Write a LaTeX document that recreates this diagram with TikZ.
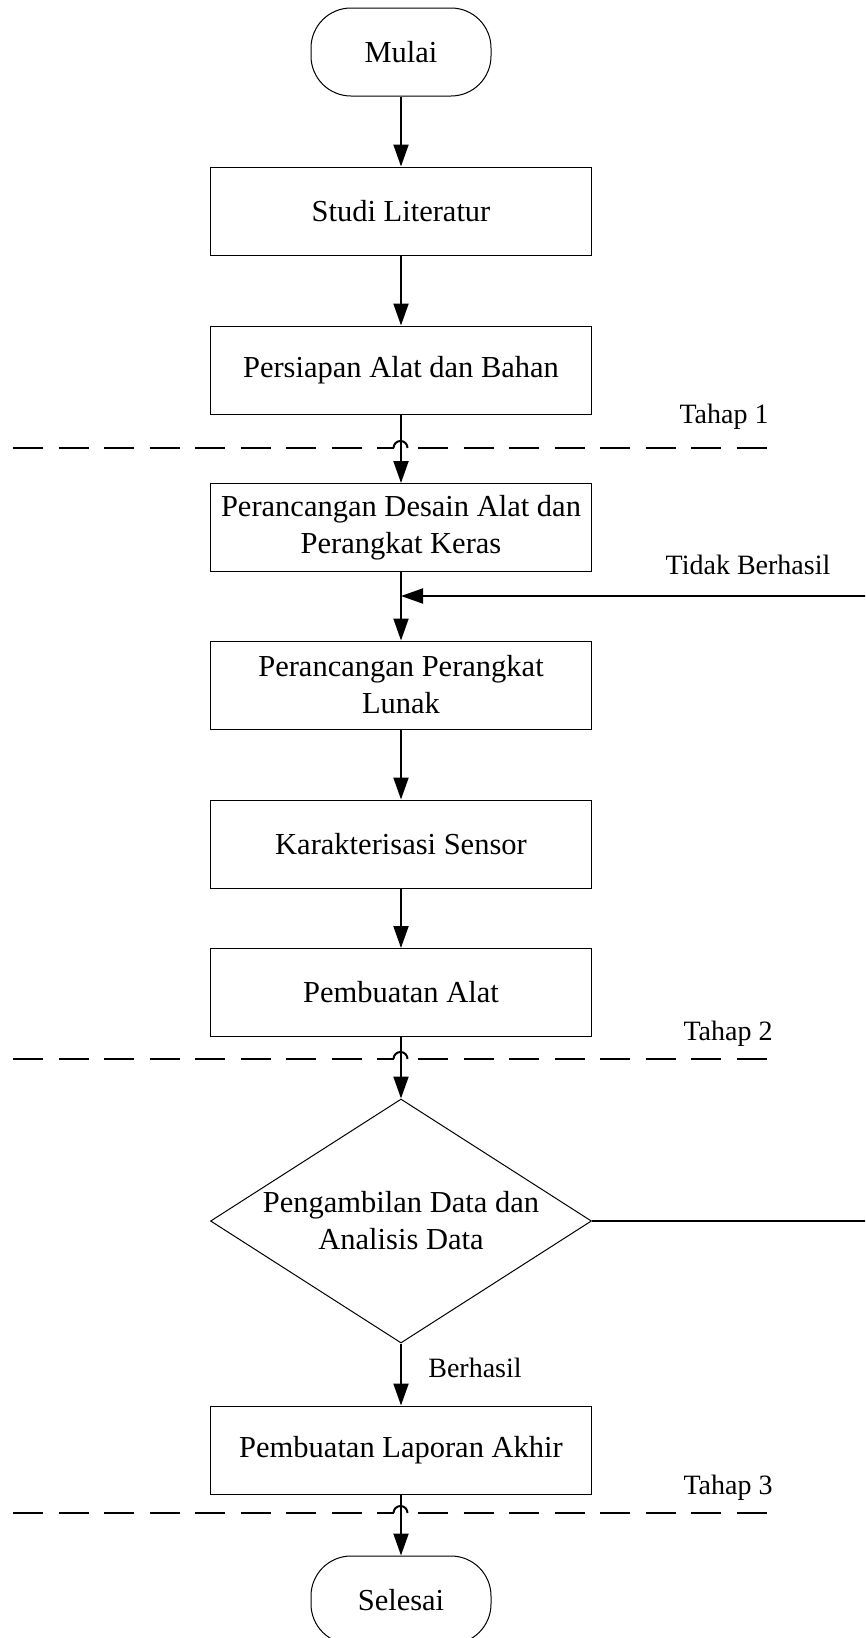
\documentclass[tikz,border=0pt]{standalone}
\usepackage{fontspec}
\setmainfont{Liberation Serif}
\usetikzlibrary{shapes.geometric,arrows.meta}

\tikzset{
  x=1pt, y=1pt,
  boxtext/.style={font=\fontsize{30.5}{37}\selectfont, align=center},
  note/.style={font=\fontsize{28}{34}\selectfont, inner sep=0pt},
  process/.style={boxtext, draw, line width=1pt, minimum width=381pt,
    minimum height=88pt, inner sep=0pt},
  terminal/.style={boxtext, draw, line width=1pt, minimum width=180pt,
    minimum height=88pt, inner sep=0pt, rounded corners=40pt},
  decision/.style={diamond, draw, line width=1pt, minimum width=381pt,
    minimum height=244pt, inner sep=0pt},
  flow/.style={line width=2pt, -{Triangle[length=22pt,width=15pt]}},
  stage/.style={line width=2pt, dash pattern=on 30pt off 15.5pt},
}

\begin{document}
\begin{tikzpicture}
  \useasboundingbox (0,0) rectangle (865,-1638);
  \clip (0,0) rectangle (865,-1638);

  % process steps
  \node[terminal] (mulai)  at (401,-52)   {Mulai};
  \node[process]  (studi)  at (401,-211)  {Studi Literatur};
  \node[process]  (siap)   at (401,-370)  {Persiapan Alat dan Bahan};
  \node[process]  (desain) at (401,-527.5){Perancangan Desain Alat dan\\Perangkat Keras};
  \node[process]  (lunak)  at (401,-685)  {Perancangan Perangkat\\Lunak};
  \node[process]  (sensor) at (401,-844)  {Karakterisasi Sensor};
  \node[process]  (alat)   at (401,-992.5){Pembuatan Alat};
  \node[decision, label={[boxtext]center:{Pengambilan Data dan\\Analisis Data}}]
                  (uji)    at (401,-1221) {};
  \node[process]  (lapor)  at (401,-1450) {Pembuatan Laporan Akhir};
  \node[terminal] (selesai) at (401,-1600) {Selesai};

  % stage separators, each hopping over the main flow line
  \foreach \y/\t in {-448/1, -1059/2, -1513/3}{
    \draw[stage] (13,\y) -- (393.5,\y);
    \draw[stage] (418,\y) -- (770,\y);
    \draw[line width=2pt] (393.5,\y) arc (180:0:7);
  }
  \node[note] (t1) at (724,-417)  {Tahap 1};
  \node[note] (t2) at (728,-1034) {Tahap 2};
  \node[note] (t3) at (728,-1488) {Tahap 3};

  % main flow
  \draw[flow] (mulai) -- (studi);
  \draw[flow] (studi) -- (siap);
  \draw[flow] (siap) -- (desain);
  \draw[flow] (desain) -- (lunak);
  \draw[flow] (lunak) -- (sensor);
  \draw[flow] (sensor) -- (alat);
  \draw[flow] (alat) -- (uji);
  \draw[flow] (uji) -- (lapor);
  \draw[flow] (lapor) -- (selesai);

  % failure loop back into the design stage
  \coordinate (ulang) at (401,-596);
  \coordinate (kanan) at (880,-1221);
  \draw[flow] (uji.east) -- (kanan) |- (ulang);
  \node[note] (gagal) at (748,-565) {Tidak Berhasil};
  \node[note] (lulus) at (475,-1368) {Berhasil};
\end{tikzpicture}
\end{document}
